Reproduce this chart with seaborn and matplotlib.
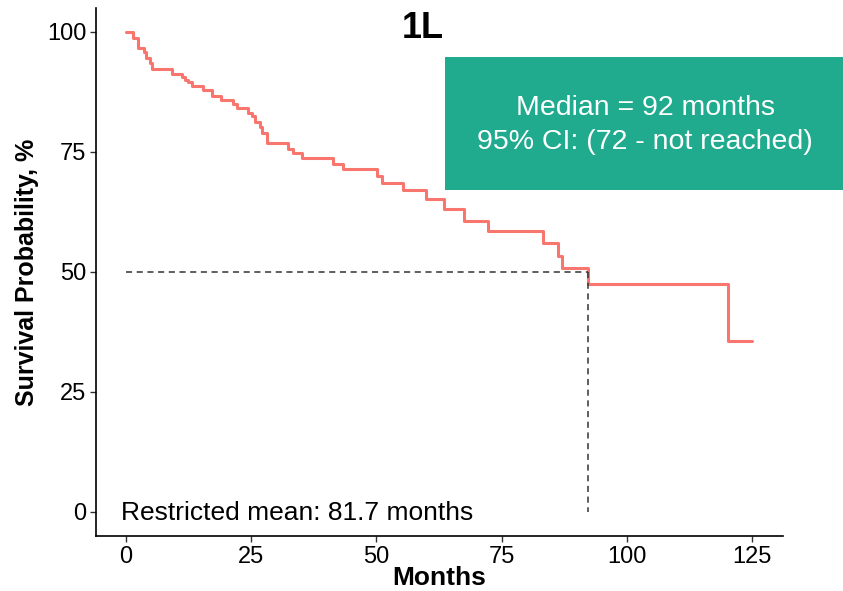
import matplotlib
matplotlib.use("Agg")
import matplotlib.pyplot as plt
import seaborn as sns
import pandas as pd

# Kaplan-Meier step curve
months = [0, 1.3, 2.3, 3.5, 4.0, 4.8, 5.1, 9.1, 11.1, 11.8, 12.4, 13.1, 15.3, 17.1,
          18.9, 21.4, 22.1, 24.4, 25.1, 25.8, 26.8, 27.1, 28.1, 32.4, 33.4, 35.1,
          41.4, 43.3, 50.2, 51.1, 55.3, 60.0, 63.4, 67.4, 72.2, 83.2, 86.3, 87.0,
          92.3, 120.3, 125.1]
survival = [100, 98.7, 96.6, 95.9, 94.5, 93.5, 92.3, 91.2, 90.7, 90.0, 89.5, 88.8,
            88.0, 86.7, 85.8, 84.9, 84.1, 83.2, 82.4, 81.3, 80.3, 78.9, 76.8, 75.6,
            74.7, 73.7, 72.5, 71.4, 70.0, 68.5, 67.0, 65.1, 63.1, 60.7, 58.6, 56.0,
            53.3, 50.8, 47.5, 35.6, 35.6]
median_time = 92.3
median_text = "Median = 92 months\n95% CI: (72 - not reached)"
rmean_text = "Restricted mean: 81.7 months"
title = "1L"
x_ticks = [0, 25, 50, 75, 100, 125]
y_ticks = [0, 25, 50, 75, 100]

df = pd.DataFrame({"Months": months, "Survival": survival})

sns.set_style("white")
plt.rcParams["font.family"] = ["Liberation Sans", "DejaVu Sans"]
plt.rcParams["text.color"] = "black"
plt.rcParams["axes.labelcolor"] = "black"
plt.rcParams["xtick.color"] = "black"
plt.rcParams["ytick.color"] = "black"

fig = plt.figure(figsize=(8.43, 5.91), dpi=100)
ax = fig.add_axes([0.1139, 0.0931, 0.8149, 0.8934])

sns.lineplot(data=df, x="Months", y="Survival", drawstyle="steps-post",
             color="#F8766D", lw=2.2, ax=ax)

# median reference lines
ax.plot([0, median_time], [50, 50], ls=(0, (4, 3)), color="#333333", lw=1.1)
ax.plot([median_time, median_time], [50, 0], ls=(0, (4, 3)), color="#333333", lw=1.1)

ax.set_xlim(-6, 131.2)
ax.set_ylim(-5, 105)
ax.set_xticks(x_ticks)
ax.set_yticks(y_ticks)
ax.tick_params(axis="both", labelsize=17, direction="out", length=4, width=1,
               color="#333333", pad=3, bottom=True, left=True)

for side in ["top", "right"]:
    ax.spines[side].set_visible(False)
for side in ["left", "bottom"]:
    ax.spines[side].set_color("black")
    ax.spines[side].set_linewidth(1.2)

ax.set_xlabel("Months", fontsize=19, fontweight="bold", labelpad=-1.5)
ax.set_ylabel("Survival Probability, %", fontsize=18, fontweight="bold", labelpad=6)

ax.text(59.2, 100.8, title, fontsize=26, fontweight="bold", ha="center", va="center")
ax.text(-1, -0.3, rmean_text, fontsize=19, ha="left", va="center")

# green median box, runs past the right edge of the axes
fig.patches.append(plt.Rectangle((445 / 843, 1 - 190 / 591), (843 - 445) / 843,
                                 (190 - 57) / 591, transform=fig.transFigure,
                                 facecolor="#20AA8E", edgecolor="none", zorder=5))
fig.text(645 / 843, 1 - 125 / 591, median_text, fontsize=20.5, color="white",
         ha="center", va="center", linespacing=1.4, zorder=6)

fig.savefig("out.png", dpi=100)
